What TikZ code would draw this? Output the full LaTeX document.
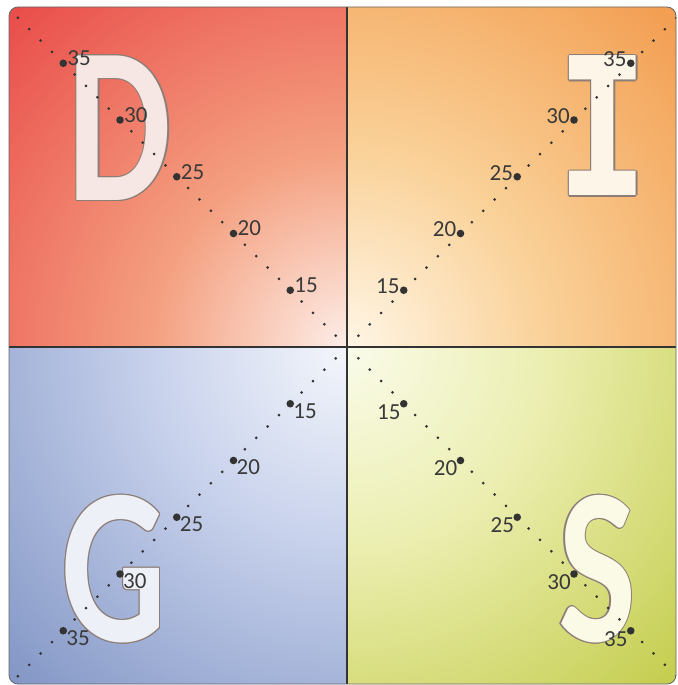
\documentclass[tikz,border=0pt]{standalone}
\usepackage{fontspec}
\setmainfont{Carlito}
\newfontfamily\monofam{DejaVu Sans Mono}
\definecolor{cD0}{HTML}{FDEEE8}
\definecolor{cD1}{HTML}{F4A080}
\definecolor{cD2}{HTML}{E94A48}
\definecolor{cI0}{HTML}{FFF6E6}
\definecolor{cI1}{HTML}{FAD29A}
\definecolor{cI2}{HTML}{F29A4C}
\definecolor{cG0}{HTML}{F4F6FB}
\definecolor{cG1}{HTML}{C8D2EC}
\definecolor{cG2}{HTML}{8094C4}
\definecolor{cS0}{HTML}{FAFBEA}
\definecolor{cS1}{HTML}{ECEFB2}
\definecolor{cS2}{HTML}{C2CB48}
\definecolor{fD}{HTML}{F6E6E4}
\definecolor{fI}{HTML}{FDF5E8}
\definecolor{fG}{HTML}{EEF0F8}
\definecolor{fS}{HTML}{FAFAE6}
\definecolor{outl}{HTML}{8C7E76}
\definecolor{dotc}{HTML}{333333}
\definecolor{txtc}{HTML}{3A3A3A}
\pgfdeclareradialshading{qD}{\pgfpoint{0bp}{0bp}}{color(0bp)=(cD0); color(10bp)=(cD1); color(25bp)=(cD2); color(50bp)=(cD2)}
\pgfdeclareradialshading{qI}{\pgfpoint{0bp}{0bp}}{color(0bp)=(cI0); color(10bp)=(cI1); color(25bp)=(cI2); color(50bp)=(cI2)}
\pgfdeclareradialshading{qG}{\pgfpoint{0bp}{0bp}}{color(0bp)=(cG0); color(10bp)=(cG1); color(25bp)=(cG2); color(50bp)=(cG2)}
\pgfdeclareradialshading{qS}{\pgfpoint{0bp}{0bp}}{color(0bp)=(cS0); color(10bp)=(cS1); color(25bp)=(cS2); color(50bp)=(cS2)}
\tikzset{
  smalldot/.style={fill=dotc},
  bigdot/.style={fill=dotc},
  agelabel/.style={font=\fontsize{23}{23}\selectfont, text=txtc, inner sep=0pt},
  bigletter/.style={font=\fontsize{223}{223}\selectfont\bfseries, inner sep=0pt, xscale=0.74},
  monoletter/.style={font=\fontsize{192}{192}\selectfont\monofam\bfseries, inner sep=0pt, xscale=0.8}
}
\newcommand{\outlinedletter}[5]{%
  \foreach \ang in {0,45,...,315}{%
    \node[#4,text=outl] at ([shift={(\ang:1.3)}]#1) {#2};
  }
  \node[#4,text=#3] (#5) at (#1) {#2};
}
\begin{document}
\begin{tikzpicture}[x=1pt,y=-1pt]
\useasboundingbox (0,0) rectangle (677,685);
\fill[white] (0,0) rectangle (677,685);
\coordinate (C) at (347,347);
\begin{scope}
  \clip[rounded corners=9pt] (9,7) rectangle (676,684);
  \begin{scope}\clip (0,0) rectangle (347,347);
    \shade[shading=qD] (C) circle (485);
  \end{scope}
  \begin{scope}\clip (347,0) rectangle (677,347);
    \shade[shading=qI] (C) circle (485);
  \end{scope}
  \begin{scope}\clip (0,347) rectangle (347,685);
    \shade[shading=qG] (C) circle (485);
  \end{scope}
  \begin{scope}\clip (347,347) rectangle (677,685);
    \shade[shading=qS] (C) circle (485);
  \end{scope}
  % big letters
  \outlinedletter{120,128}{D}{fD}{bigletter}{letD}
  \outlinedletter{603,126}{I}{fI}{monoletter}{letI}
  \outlinedletter{114,569}{G}{fG}{bigletter}{letG}
  \outlinedletter{597,569}{S}{fS}{bigletter}{letS}
  % dotted diagonals
  \foreach \sx/\sy in {-1/-1,1/-1,-1/1,1/1}{
    \foreach \v in {11,...,39}{
      \fill[smalldot] ({347+\sx*(\v-10)*11.35},{347+\sy*(\v-10)*11.35}) circle (1.5);
    }
    \foreach \v in {15,20,25,30,35}{
      \fill[bigdot] ({347+\sx*(\v-10)*11.35},{347+\sy*(\v-10)*11.35}) circle (3.8);
    }
  }
  % labels
  \foreach \v in {15,20,25,30,35}{
    \pgfmathsetmacro{\d}{(\v-10)*11.35}
    \node[agelabel,anchor=west] (tl\v) at ({347-\d+4},{347-\d-5}) {\v};
    \node[agelabel,anchor=east] (tr\v) at ({347+\d-4},{347-\d-4}) {\v};
    \node[agelabel,anchor=west] (bl\v) at ({347-\d+3},{347+\d+7}) {\v};
    \node[agelabel,anchor=east] (br\v) at ({347+\d-3},{347+\d+8}) {\v};
  }
\end{scope}
% cross lines
\draw[line width=2pt, dotc] (347,7) -- (347,684);
\draw[line width=2pt, dotc] (9,347) -- (676,347);
% outer border
\draw[line width=0.8pt, gray!80!black, rounded corners=9pt] (9,7) rectangle (676,684);
\end{tikzpicture}
\end{document}
